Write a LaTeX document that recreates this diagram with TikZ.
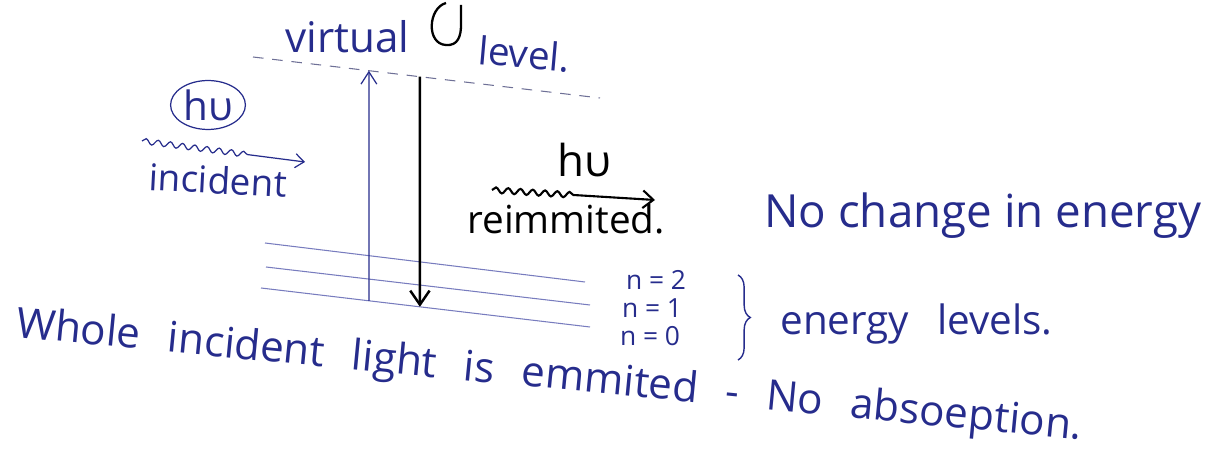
\documentclass[tikz,border=0pt]{standalone}
\usepackage{fontspec}
\setmainfont{Open Sans}
\usetikzlibrary{arrows.meta,shapes.geometric,decorations.pathmorphing,decorations.pathreplacing}

\definecolor{inkblue}{RGB}{38,44,140}
\definecolor{rulegray}{RGB}{120,124,190}
\definecolor{dashgray}{RGB}{110,112,150}

\tikzset{
  handtext/.style={inner sep=0pt, anchor=base west, text=inkblue},
  nlabel/.style={inner sep=0pt, anchor=base, text=inkblue, font=\fontsize{15}{18}\selectfont},
  wave/.style={decorate, decoration={snake, amplitude=1.6pt, segment length=7pt, post length=#1}},
  levelline/.style={rulegray, line width=0.6pt},
}

\begin{document}
\begin{tikzpicture}[x=0.02cm, y=-0.02cm]
\useasboundingbox (0,0) rectangle (1213,455);

% Niveau virtuel
\coordinate (vL) at (253,57);
\coordinate (vR) at (600,98);
\draw[dashgray, line width=0.6pt, dash pattern=on 6pt off 5pt] (vL) -- (vR);
\node[handtext, font=\fontsize{24}{28}\selectfont] (virt) at (285,53) {virtual};
\node[handtext, rotate=-5, font=\fontsize{22}{26}\selectfont] (lev) at (477,64) {level.};
\draw[line width=1.3pt] (446,3) .. controls (428,8) and (426,44) .. (446,45)
  .. controls (458,46) and (461,36) .. (461,25) -- (461,5);

% Niveaux d'energie
\coordinate (l2a) at (265,243); \coordinate (l2b) at (585,282);
\coordinate (l1a) at (266,267); \coordinate (l1b) at (590,305);
\coordinate (l0a) at (261,288); \coordinate (l0b) at (590,327);
\draw[levelline] (l2a) -- (l2b);
\draw[levelline] (l1a) -- (l1b);
\draw[levelline] (l0a) -- (l0b);
\node[nlabel] (n2) at (656,290) {n = 2};
\node[nlabel] (n1) at (652,318) {n = 1};
\node[nlabel] (n0) at (650,346) {n = 0};
\draw[inkblue, line width=0.8pt, decorate, decoration={brace, amplitude=7pt}] (738,275) -- (738,360);
\node[handtext, font=\fontsize{23}{27}\selectfont] (levels) at (780,335) {energy\hspace{0.7em}levels.};

% Transitions
\path (l0a) -- (l0b) coordinate[pos=0.328] (absBot) coordinate[pos=0.483] (emiBot);
\path (vL) -- (vR) coordinate[pos=0.334] (absTop) coordinate[pos=0.481] (emiTop);
\draw[inkblue, line width=0.7pt, -{Straight Barb[length=7pt,width=9pt]}] (absBot) -- (absTop);
\draw[black, line width=1.4pt, -{Straight Barb[length=8pt,width=11pt]}] (emiTop) -- (emiBot);

% Photon incident
\node[handtext, anchor=center, draw=inkblue, ellipse, line width=0.7pt, inner sep=1pt,
  minimum width=1.24cm, minimum height=0.9cm, font=\fontsize{23}{27}\selectfont] (hvIn) at (208,105) {hυ};
\coordinate (incS) at (142,141);
\coordinate (incE) at (305,162);
\draw[inkblue, line width=0.7pt, wave=32pt, -{Straight Barb[length=5pt,width=8pt]}] (incS) -- (incE);
\node[handtext, rotate=-3, font=\fontsize{21}{25}\selectfont] (inc) at (148,190) {incident};

% Photon reemis
\node[handtext, text=black, font=\fontsize{25}{29}\selectfont] (hvOut) at (557,177) {hυ};
\coordinate (emS) at (492,190);
\coordinate (emE) at (655,200);
\draw[black, line width=1.2pt, wave=44pt, -{Straight Barb[length=6pt,width=10pt]}] (emS) -- (emE);
\node[handtext, text=black, font=\fontsize{22}{26}\selectfont] (reem) at (467,234) {reimmited.};

% Commentaires
\node[handtext, font=\fontsize{26}{31}\selectfont] (nochg) at (764,228) {No change in energy};
\node[handtext, rotate=-5.5, font=\fontsize{24}{28}\selectfont] (whole) at (15,337)
  {\spaceskip=0.65em\relax Whole incident light is emmited - No absoeption.};

\end{tikzpicture}
\end{document}
